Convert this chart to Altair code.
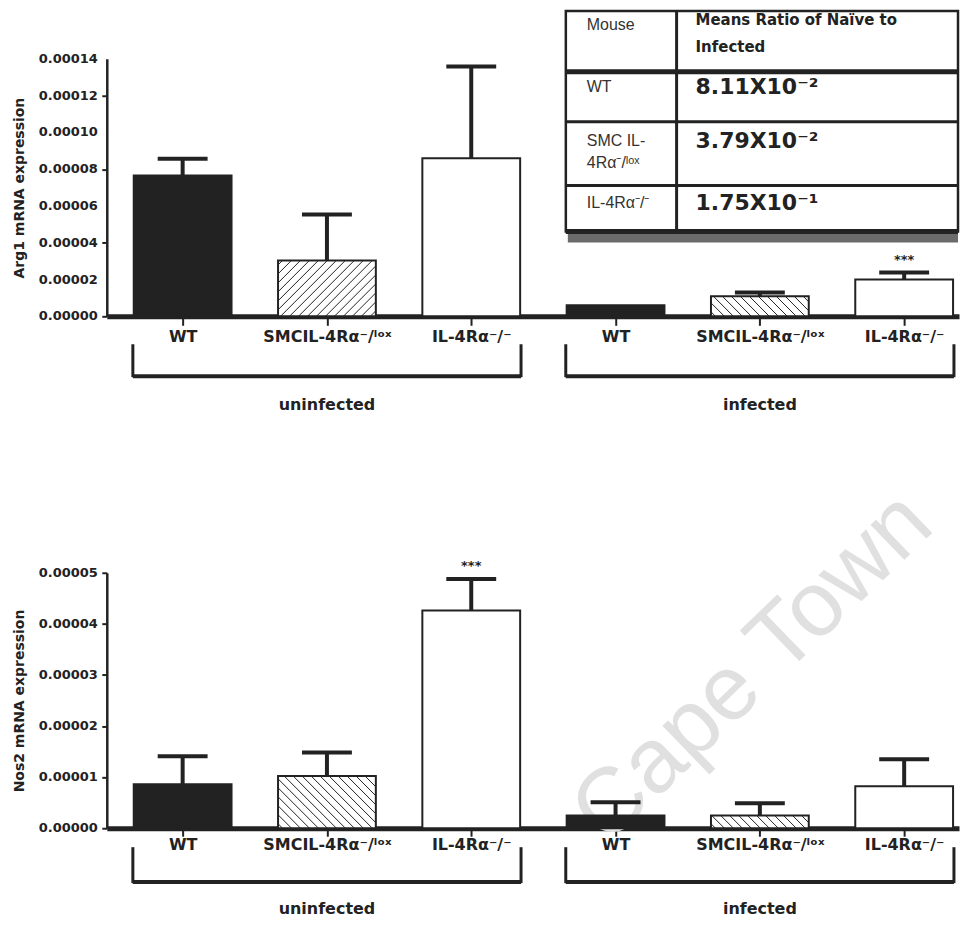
import json
import numpy as np
import pandas as pd
import altair as alt

# ---------------- data ----------------
genotypes = ["WT", "SMCIL-4Rα⁻/ˡᵒˣ", "IL-4Rα⁻/⁻", "WT", "SMCIL-4Rα⁻/ˡᵒˣ", "IL-4Rα⁻/⁻"]
kinds = ["wt", "smc", "ko", "wt", "smc", "ko"]
infection = ["uninfected", "uninfected", "uninfected", "infected", "infected", "infected"]

top_mean = [0.0000766, 0.0000304, 0.0000859, 0.0000060, 0.0000109, 0.0000200]
top_err = [0.0000091, 0.0000249, 0.0000499, 0.0, 0.0000021, 0.0000038]
top_hatch = ["", "/", "", "", "\\", ""]
top_sig = ["", "", "", "", "", "***"]
top_title = "Arg1 mRNA expression"
top_ticks = [0.0, 0.00002, 0.00004, 0.00006, 0.00008, 0.00010, 0.00012, 0.00014]

bottom_mean = [0.0000086, 0.0000102, 0.0000426, 0.0000025, 0.0000025, 0.0000082]
bottom_err = [0.0000055, 0.0000046, 0.0000062, 0.0000026, 0.0000024, 0.0000053]
bottom_hatch = ["", "\\", "", "", "\\", ""]
bottom_sig = ["", "", "***", "", "", ""]
bottom_title = "Nos2 mRNA expression"
bottom_ticks = [0.0, 0.00001, 0.00002, 0.00003, 0.00004, 0.00005]

table_header = ["Mouse", "Means Ratio of Naïve to\nInfected"]
table_mouse = ["WT", "SMC IL-\n4Rα⁻/ˡᵒˣ", "IL-4Rα⁻/⁻"]
table_ratio = ["8.11X10⁻²", "3.79X10⁻²", "1.75X10⁻¹"]

watermark = "Cape Town"

# ---------------- layout / style ----------------
FONT_B = "DejaVu Sans"
FONT_R = "Liberation Sans"
INK = "#222222"
W = 854
X_DOMAIN = [-0.0256, 5.88]
PPX = W / (X_DOMAIN[1] - X_DOMAIN[0])
H1, Y1MAX = 258, 0.00014
H2, Y2MAX = 256, 0.00005
BAR_HALF = 49
CAP_HALF = 25
HATCH_STEP = 9

positions = [i + 0.5 for i in range(len(genotypes))]
xscale = alt.Scale(domain=X_DOMAIN, nice=False, zero=False)


def hatch_segments(pos, value, direction, ppy):
    w = 2 * BAR_HALF
    h = value * ppy
    segs = []
    if direction == "/":
        for c in np.arange(-h + HATCH_STEP / 2, w, HATCH_STEP):
            y0, y1 = max(0.0, -c), min(h, w - c)
            if y1 - y0 > 0.8:
                segs.append((y0 + c, y0, y1 + c, y1))
    elif direction == "\\":
        for c in np.arange(HATCH_STEP / 2, w + h, HATCH_STEP):
            y0, y1 = max(0.0, c - w), min(h, c)
            if y1 - y0 > 0.8:
                segs.append((c - y0, y0, c - y1, y1))
    out = []
    for u0, v0, u1, v1 in segs:
        out.append({
            "hx0": pos + (u0 - w / 2) / PPX, "hy0": v0 / ppy,
            "hx1": pos + (u1 - w / 2) / PPX, "hy1": v1 / ppy,
        })
    return out


def panel(mean, err, hatch, sig, ymax, H, ticks, title, tick_size, label_pad,
          br_top, br_bot, grp_y):
    ppy = H / ymax
    yscale = alt.Scale(domain=[0, ymax], nice=False, zero=False)
    df = pd.DataFrame({
        "pos": positions, "kind": kinds, "genotype": genotypes,
        "value": mean, "err": err, "sig": sig,
    })
    df["x0"] = df["pos"] - BAR_HALF / PPX
    df["x1"] = df["pos"] + BAR_HALF / PPX
    df["c0"] = df["pos"] - CAP_HALF / PPX
    df["c1"] = df["pos"] + CAP_HALF / PPX
    df["base"] = 0.0
    df["top"] = df["value"] + df["err"]

    hseg = []
    for p, v, d in zip(positions, mean, hatch):
        hseg += hatch_segments(p, v, d, ppy)
    hdf = pd.DataFrame(hseg)

    groups = []
    for g in ["uninfected", "infected"]:
        ps = [p for p, inf in zip(positions, infection) if inf == g]
        groups.append({"name": g, "start": min(ps) - 0.345, "end": max(ps) + 0.345,
                       "center": (min(ps) + max(ps)) / 2})
    gdf = pd.DataFrame(groups)

    label_expr = json.dumps(genotypes, ensure_ascii=False) + "[round(datum.value - 0.5)]"
    xaxis = alt.Axis(values=positions, labelExpr=label_expr, title=None, grid=False,
                     domainWidth=5, domainColor=INK, tickSize=tick_size, tickWidth=2,
                     tickColor=INK, labelFont=FONT_B, labelFontWeight="bold",
                     labelFontSize=16, labelColor=INK, labelPadding=label_pad,
                     labelOverlap=False, labelFlush=False)
    # y tick labels are drawn as a text layer below, so the axis keeps ticks + title
    yaxis = alt.Axis(values=ticks, labels=False, title=title, grid=False,
                     domainWidth=2.5, domainColor=INK, tickSize=5, tickWidth=2,
                     tickColor=INK, titleFont=FONT_B, titleFontSize=14,
                     titleFontWeight="bold", titleColor=INK, titlePadding=74)

    base = alt.Chart(df)
    bars = base.mark_rect(stroke=INK, strokeWidth=2).encode(
        x=alt.X("x0:Q", scale=xscale, axis=xaxis),
        x2="x1:Q",
        y=alt.Y("value:Q", scale=yscale, axis=yaxis),
        y2="base:Q",
        fill=alt.Fill("kind:N", scale=alt.Scale(domain=["wt", "smc", "ko"],
                                                range=[INK, "white", "white"]),
                      legend=None),
    )
    ylabels = alt.Chart(pd.DataFrame({"v": ticks})).mark_text(
        font=FONT_B, fontWeight="bold", fontSize=13, color=INK, align="right",
        baseline="middle").encode(
        x=alt.value(-9), y=alt.Y("v:Q", scale=yscale),
        text=alt.Text("v:Q", format=".5f"))
    hatch_layer = alt.Chart(hdf).mark_rule(color=INK, strokeWidth=1).encode(
        x=alt.X("hx0:Q", scale=xscale), x2="hx1:Q",
        y=alt.Y("hy0:Q", scale=yscale), y2="hy1:Q",
    )
    ebase = base.transform_filter("datum.err > 0")
    stem = ebase.mark_rule(color=INK, strokeWidth=4).encode(
        x=alt.X("pos:Q", scale=xscale),
        y=alt.Y("value:Q", scale=yscale), y2="top:Q",
    )
    cap = ebase.mark_rule(color=INK, strokeWidth=4).encode(
        x=alt.X("c0:Q", scale=xscale), x2="c1:Q",
        y=alt.Y("top:Q", scale=yscale),
    )
    stars = base.transform_filter("datum.sig != ''").mark_text(
        font=FONT_B, fontWeight="bold", fontSize=13, color=INK, dy=-13, baseline="middle"
    ).encode(x=alt.X("pos:Q", scale=xscale),
             y=alt.Y("top:Q", scale=yscale), text="sig:N")

    gbase = alt.Chart(gdf)
    br_l = gbase.mark_rule(color=INK, strokeWidth=3).encode(
        x=alt.X("start:Q", scale=xscale),
        y=alt.value(H + br_top), y2=alt.value(H + br_bot))
    br_r = gbase.mark_rule(color=INK, strokeWidth=3).encode(
        x=alt.X("end:Q", scale=xscale),
        y=alt.value(H + br_top), y2=alt.value(H + br_bot))
    br_h = gbase.mark_rule(color=INK, strokeWidth=4).encode(
        x=alt.X("start:Q", scale=xscale), x2="end:Q",
        y=alt.value(H + br_bot - 1))
    gtext = gbase.mark_text(font=FONT_B, fontWeight="bold", fontSize=16, color=INK,
                            baseline="middle").encode(
        x=alt.X("center:Q", scale=xscale), y=alt.value(H + grp_y),
        text="name:N")

    return [bars, ylabels, hatch_layer, stem, cap, stars, br_l, br_r, br_h, gtext], yscale


top_layers, y1scale = panel(top_mean, top_err, top_hatch, top_sig, Y1MAX, H1, top_ticks,
                            top_title, 9, 3, 28, 61, 89)
bottom_layers, y2scale = panel(bottom_mean, bottom_err, bottom_hatch, bottom_sig, Y2MAX, H2,
                               bottom_ticks, bottom_title, 8, 0, 19, 55, 81)

# watermark, drawn behind the bars of the lower panel (placed in pixels of that panel)
wm = alt.Chart(pd.DataFrame({"t": [watermark]})).mark_text(
    font=FONT_R, fontSize=92, color="#e0e0e0", angle=316, align="center",
    baseline="middle").encode(x=alt.value(647), y=alt.value(95), text="t:N")

# ---------------- table: layout in pixel offsets of the top panel, mapped onto its scales ----
def tx(px):
    return X_DOMAIN[0] + px / PPX


def ty(py):
    return Y1MAX * (1 - py / H1)


TL, TD, TR = 460, 571, W - 1
T_TOP, T_BOT = -48, 173
row_bounds = [13, 63, 127, 173]
row_widths = [5, 3, 3, 5]

frame = pd.DataFrame([{"l": tx(TL), "r": tx(TR), "t": ty(T_TOP), "b": ty(T_BOT)}])
shadow = pd.DataFrame([{"l": tx(TL + 2), "r": tx(TR), "t": ty(T_BOT), "b": ty(T_BOT + 11)}])
hlines = pd.DataFrame({"y": [ty(v) for v in row_bounds], "w": row_widths,
                       "l": tx(TL), "r": tx(TR)})
vline = pd.DataFrame([{"x": tx(TD), "t": ty(T_TOP), "b": ty(T_BOT)}])

mouse_txt = pd.DataFrame({
    "text": [table_header[0]] + table_mouse,
    "x": [tx(TL + 21)] * 4,
    "y": [ty(v) for v in [-34, 28, 82, 144]],
})
head_txt = pd.DataFrame({"text": [table_header[1]], "x": [tx(TD + 19)], "y": [ty(-38)]})
ratio_txt = pd.DataFrame({"text": table_ratio, "x": [tx(TD + 19)] * 3,
                          "y": [ty(v) for v in [28, 82, 144]]})


def enc_rect(ch):
    return ch.encode(x=alt.X("l:Q", scale=xscale), x2="r:Q",
                     y=alt.Y("t:Q", scale=y1scale), y2="b:Q")


t_shadow = enc_rect(alt.Chart(shadow).mark_rect(fill="#6b6b6b"))
t_frame = enc_rect(alt.Chart(frame).mark_rect(fill="white", stroke=INK, strokeWidth=2.5))
t_h = alt.Chart(hlines).mark_rule(color=INK).encode(
    x=alt.X("l:Q", scale=xscale), x2="r:Q",
    y=alt.Y("y:Q", scale=y1scale),
    strokeWidth=alt.StrokeWidth("w:Q", scale=None))
t_v = alt.Chart(vline).mark_rule(color=INK, strokeWidth=3).encode(
    x=alt.X("x:Q", scale=xscale),
    y=alt.Y("t:Q", scale=y1scale), y2="b:Q")
t_mouse = alt.Chart(mouse_txt).mark_text(
    font=FONT_R, fontSize=16, color="#333333", align="left", baseline="middle",
    lineBreak="\n", lineHeight=22).encode(
    x=alt.X("x:Q", scale=xscale), y=alt.Y("y:Q", scale=y1scale),
    text="text:N")
t_head = alt.Chart(head_txt).mark_text(
    font=FONT_B, fontSize=15, fontWeight="bold", color=INK, align="left", baseline="top",
    lineBreak="\n", lineHeight=27, dy=-8).encode(
    x=alt.X("x:Q", scale=xscale), y=alt.Y("y:Q", scale=y1scale),
    text="text:N")
t_ratio = alt.Chart(ratio_txt).mark_text(
    font=FONT_B, fontSize=22, fontWeight="bold", color=INK, align="left",
    baseline="middle").encode(
    x=alt.X("x:Q", scale=xscale), y=alt.Y("y:Q", scale=y1scale),
    text="text:N")

top_chart = alt.layer(*top_layers, t_shadow, t_frame, t_h, t_v, t_mouse, t_head,
                      t_ratio).properties(width=W, height=H1)
bottom_chart = alt.layer(wm, *bottom_layers).properties(width=W, height=H2)

chart = alt.vconcat(top_chart, bottom_chart, spacing=62).properties(
    padding={"left": 5, "top": 0, "right": 0, "bottom": 0},
    background="white",
).configure_view(stroke=None)

chart.save("out.html", embed_options={"renderer": "svg", "actions": False})
